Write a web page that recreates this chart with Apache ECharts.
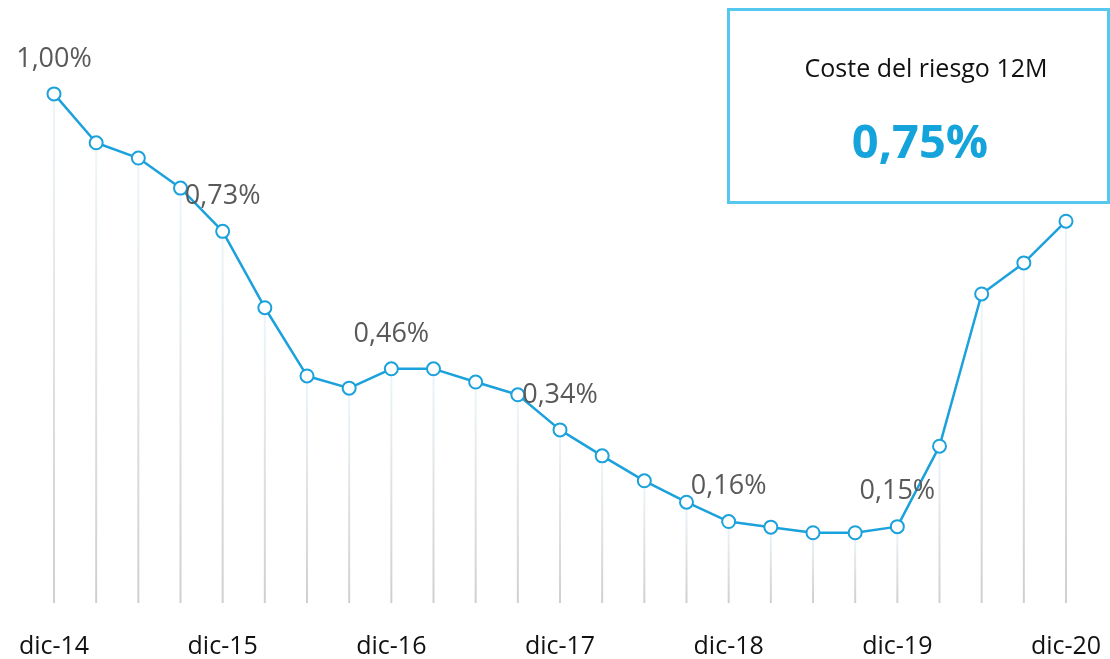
<!DOCTYPE html>
<html>
<head>
<meta charset="utf-8">
<script src="https://cdn.jsdelivr.net/npm/echarts@6/dist/echarts.min.js"></script>
<style>
  html, body { margin: 0; padding: 0; background: #fff; }
  #main { width: 1110px; height: 659px; }
</style>
</head>
<body>
<div id="main"></div>
<script>
// trimestres dic-14 .. dic-20
var categories = ['dic-14', 'mar-15', 'jun-15', 'sep-15', 'dic-15', 'mar-16', 'jun-16', 'sep-16', 'dic-16',
  'mar-17', 'jun-17', 'sep-17', 'dic-17', 'mar-18', 'jun-18', 'sep-18', 'dic-18',
  'mar-19', 'jun-19', 'sep-19', 'dic-19', 'mar-20', 'jun-20', 'sep-20', 'dic-20'];
var costeRiesgo = [1.00, 0.904, 0.874, 0.815, 0.73, 0.58, 0.446, 0.422, 0.46,
  0.46, 0.434, 0.409, 0.34, 0.289, 0.24, 0.198, 0.16,
  0.149, 0.138, 0.138, 0.15, 0.308, 0.607, 0.668, 0.75];
// puntos con etiqueta
var labelled = [0, 4, 8, 12, 16, 20];
var boxTitle = 'Coste del riesgo 12M';
var boxValue = '0,75%';

var fmt = function (v) { return v.toFixed(2).replace('.', ',') + '%'; };

var myChart = echarts.init(document.getElementById('main'));
var option = {
  animation: false,
  grid: { left: 54, right: 44, top: 43, bottom: 56, containLabel: false },
  xAxis: {
    type: 'category',
    data: categories,
    boundaryGap: false,
    axisLine: { show: false },
    axisTick: { show: false },
    axisLabel: {
      interval: 3,
      margin: 31,
      color: '#111',
      fontSize: 25,
      fontFamily: 'Open Sans'
    }
  },
  yAxis: {
    type: 'value',
    min: 0,
    max: 1.1,
    show: false
  },
  series: [
    {
      type: 'bar',
      data: costeRiesgo,
      barWidth: 2,
      z: 1,
      itemStyle: {
        color: new echarts.graphic.LinearGradient(0, 0, 0, 1, [
          { offset: 0, color: '#eef6fb' },
          { offset: 1, color: '#cfcfcf' }
        ])
      },
      silent: true
    },
    {
      type: 'line',
      z: 3,
      data: costeRiesgo.map(function (v, i) {
        return {
          value: v,
          label: { show: labelled.indexOf(i) >= 0 }
        };
      }),
      symbol: 'emptyCircle',
      symbolSize: 13,
      lineStyle: { color: '#1ba1db', width: 2.5 },
      itemStyle: { color: '#1ba1db', borderWidth: 2 },
      label: {
        position: 'top',
        distance: 14,
        color: '#595959',
        fontSize: 27,
        fontFamily: 'Open Sans',
        formatter: function (p) { return fmt(p.value); }
      }
    }
  ],
  graphic: [
    {
      type: 'rect',
      left: 727,
      top: 8,
      shape: { width: 380, height: 193 },
      style: { fill: '#fff', stroke: '#56c8f0', lineWidth: 3 },
      z: 10
    },
    {
      type: 'text',
      x: 926,
      y: 70,
      style: {
        text: boxTitle,
        fill: '#111',
        font: '25px "Open Sans"',
        textAlign: 'center',
        textVerticalAlign: 'middle'
      },
      z: 11
    },
    {
      type: 'text',
      x: 920,
      y: 145,
      style: {
        text: boxValue,
        fill: '#14a3db',
        font: 'bold 47px "Open Sans"',
        textAlign: 'center',
        textVerticalAlign: 'middle'
      },
      z: 11
    }
  ]
};
myChart.setOption(option);
</script>
</body>
</html>
